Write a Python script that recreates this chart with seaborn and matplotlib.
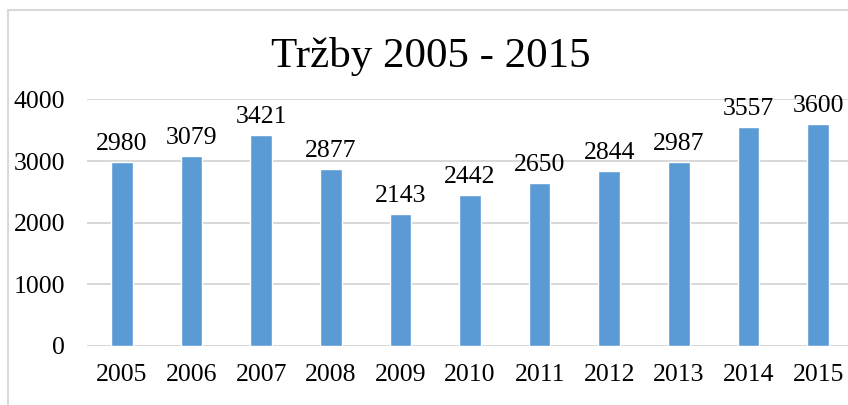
import matplotlib

matplotlib.use("Agg")
import matplotlib.pyplot as plt
import pandas as pd
import seaborn as sns
from matplotlib.patches import Rectangle

years = ["2005", "2006", "2007", "2008", "2009", "2010", "2011", "2012", "2013", "2014", "2015"]
sales = [2980, 3079, 3421, 2877, 2143, 2442, 2650, 2844, 2987, 3557, 3600]
title = "Tržby 2005 - 2015"

df = pd.DataFrame({"rok": years, "trzby": sales})

sns.set_theme(style="white")
plt.rcParams["font.family"] = ["Liberation Serif", "DejaVu Serif"]

fig = plt.figure(figsize=(8.48, 4.05), dpi=100)
ax = fig.add_axes([0.1028, 0.1464, 0.903, 0.608])

sns.barplot(data=df, x="rok", y="trzby", color="#5B9BD5", width=0.31,
            saturation=1, ax=ax, zorder=3)

# data labels
for container in ax.containers:
    ax.bar_label(container, fmt="%d", padding=5, fontsize=18.5, color="black")

ax.set_ylim(0, 4000)
ax.set_xlim(-0.5, len(years) - 0.5)
ax.set_yticks([0, 1000, 2000, 3000, 4000])
ax.yaxis.grid(True, color="#d4d4d4", linewidth=1.3, zorder=0)
ax.xaxis.grid(False)
ax.set_xlabel("")
ax.set_ylabel("")
ax.tick_params(axis="y", labelsize=18.5, length=0, pad=16, colors="black")
ax.tick_params(axis="x", labelsize=18.5, length=0, pad=13, colors="black")
for side in ["top", "right", "left", "bottom"]:
    ax.spines[side].set_visible(False)
ax.set_facecolor("none")

# chart frame (cropped at right and bottom)
fig.patches.append(Rectangle((8 / 848, -0.1), 1.2, 1.1 - 10 / 405,
                             transform=fig.transFigure, fill=False,
                             edgecolor="#d9d9d9", linewidth=1.5, zorder=0))

fig.text(431 / 848, 1 - 57 / 405, title, ha="center", va="center",
         fontsize=31, color="black")

fig.savefig("out.png", dpi=100)
